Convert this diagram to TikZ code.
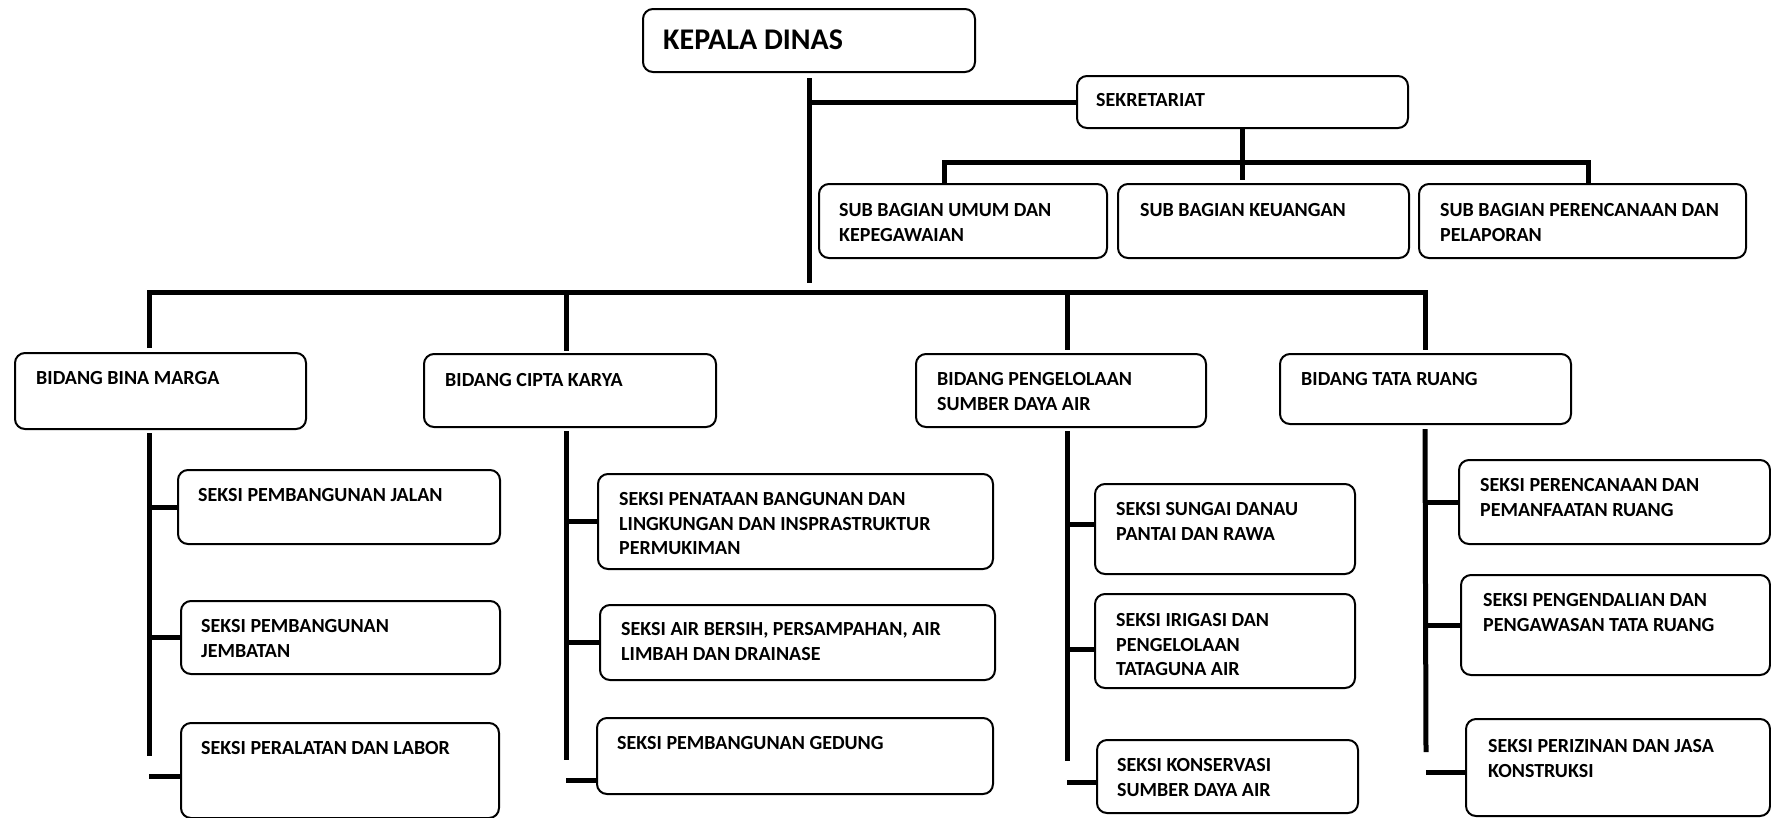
\documentclass[tikz,border=0pt]{standalone}
\usepackage{fontspec}
\setmainfont{Carlito}

\begin{document}
\begin{tikzpicture}[x=1pt,y=-1pt]
\tikzset{
  unit/.style={draw=black, line width=2pt, rounded corners=10pt, inner sep=0pt, anchor=north west},
  txt/.style={inner sep=0pt, anchor=north west, align=left, font=\bfseries\fontsize{20}{24.5}\selectfont},
  conn/.style={line width=5pt}
}
\useasboundingbox (0,0) rectangle (1771,817);

% kepala dinas and sekretariat
\node[unit, minimum width=332pt, minimum height=63pt] (kd) at (642,8) {};
\node[txt, font=\bfseries\fontsize{30}{36}\selectfont] (kd-t) at ([shift={(21pt,-22pt)}]kd.north west) {KEPALA DINAS};
\node[unit, minimum width=331pt, minimum height=52pt] (sek) at (1076,75) {};
\node[txt] (sek-t) at ([shift={(20pt,-18.5pt)}]sek.north west) {SEKRETARIAT};

% sub bagian
\node[unit, minimum width=288pt, minimum height=74pt] (sbu) at (818,183) {};
\node[txt] (sbu-t) at ([shift={(21pt,-20.5pt)}]sbu.north west) {SUB BAGIAN UMUM DAN\\KEPEGAWAIAN};
\node[unit, minimum width=291pt, minimum height=74pt] (sbk) at (1117,183) {};
\node[txt] (sbk-t) at ([shift={(23pt,-20.5pt)}]sbk.north west) {SUB BAGIAN KEUANGAN};
\node[unit, minimum width=327pt, minimum height=74pt] (sbp) at (1418,183) {};
\node[txt] (sbp-t) at ([shift={(22pt,-20.5pt)}]sbp.north west) {SUB BAGIAN PERENCANAAN DAN\\PELAPORAN};

% bidang
\node[unit, minimum width=291pt, minimum height=76pt] (bm) at (14,352) {};
\node[txt] (bm-t) at ([shift={(22pt,-19.5pt)}]bm.north west) {BIDANG BINA MARGA};
\node[unit, minimum width=292pt, minimum height=73pt] (ck) at (423,353) {};
\node[txt] (ck-t) at ([shift={(22pt,-20.5pt)}]ck.north west) {BIDANG CIPTA KARYA};
\node[unit, minimum width=290pt, minimum height=73pt] (psda) at (915,353) {};
\node[txt] (psda-t) at ([shift={(22pt,-19.5pt)}]psda.north west) {BIDANG PENGELOLAAN\\SUMBER DAYA AIR};
\node[unit, minimum width=291pt, minimum height=70pt] (tr) at (1279,353) {};
\node[txt] (tr-t) at ([shift={(22pt,-19.5pt)}]tr.north west) {BIDANG TATA RUANG};

% seksi bina marga
\node[unit, minimum width=322pt, minimum height=74pt] (s11) at (177,469) {};
\node[txt] (s11-t) at ([shift={(21pt,-19.5pt)}]s11.north west) {SEKSI PEMBANGUNAN JALAN};
\node[unit, minimum width=319pt, minimum height=73pt] (s12) at (180,600) {};
\node[txt] (s12-t) at ([shift={(21pt,-19.5pt)}]s12.north west) {SEKSI PEMBANGUNAN\\JEMBATAN};
\node[unit, minimum width=318pt, minimum height=95pt] (s13) at (180,722) {};
\node[txt] (s13-t) at ([shift={(21pt,-19.5pt)}]s13.north west) {SEKSI PERALATAN DAN LABOR};

% seksi cipta karya
\node[unit, minimum width=395pt, minimum height=95pt] (s21) at (597,473) {};
\node[txt] (s21-t) at ([shift={(22pt,-19.5pt)}]s21.north west) {SEKSI PENATAAN BANGUNAN DAN\\LINGKUNGAN DAN INSPRASTRUKTUR\\PERMUKIMAN};
\node[unit, minimum width=395pt, minimum height=75pt] (s22) at (599,604) {};
\node[txt] (s22-t) at ([shift={(22pt,-18.5pt)}]s22.north west) {SEKSI AIR BERSIH, PERSAMPAHAN, AIR\\LIMBAH DAN DRAINASE};
\node[unit, minimum width=396pt, minimum height=76pt] (s23) at (596,717) {};
\node[txt] (s23-t) at ([shift={(21pt,-19.5pt)}]s23.north west) {SEKSI PEMBANGUNAN GEDUNG};

% seksi pengelolaan sumber daya air
\node[unit, minimum width=260pt, minimum height=90pt] (s31) at (1094,483) {};
\node[txt] (s31-t) at ([shift={(22pt,-19.5pt)}]s31.north west) {SEKSI SUNGAI DANAU\\PANTAI DAN RAWA};
\node[unit, minimum width=260pt, minimum height=94pt] (s32) at (1094,593) {};
\node[txt] (s32-t) at ([shift={(22pt,-20.5pt)}]s32.north west) {SEKSI IRIGASI DAN\\PENGELOLAAN\\TATAGUNA AIR};
\node[unit, minimum width=261pt, minimum height=73pt] (s33) at (1096,739) {};
\node[txt] (s33-t) at ([shift={(21pt,-19.5pt)}]s33.north west) {SEKSI KONSERVASI\\SUMBER DAYA AIR};

% seksi tata ruang
\node[unit, minimum width=311pt, minimum height=84pt] (s41) at (1458,459) {};
\node[txt] (s41-t) at ([shift={(22pt,-19.5pt)}]s41.north west) {SEKSI PERENCANAAN DAN\\PEMANFAATAN RUANG};
\node[unit, minimum width=309pt, minimum height=100pt] (s42) at (1460,574) {};
\node[txt] (s42-t) at ([shift={(23pt,-19.5pt)}]s42.north west) {SEKSI PENGENDALIAN DAN\\PENGAWASAN TATA RUANG};
\node[unit, minimum width=304pt, minimum height=97pt] (s43) at (1465,718) {};
\node[txt] (s43-t) at ([shift={(23pt,-21.5pt)}]s43.north west) {SEKSI PERIZINAN DAN JASA\\KONSTRUKSI};

% bars and spines
\coordinate (sbl) at (944,162);
\coordinate (sbr) at (1588,162);
\coordinate (mbl) at (149,292);
\coordinate (mbr) at (1425,292);
\coordinate (ckx) at (566,292);
\coordinate (psx) at (1067,292);
\coordinate (bme) at (149,756);
\coordinate (cke) at (566,760);
\coordinate (pse) at (1067,761);
\coordinate (tre) at (1426,752);

\draw[conn] ([yshift=-5pt]kd.south) -- ([yshift=9pt]kd.south |- mbl);
\draw[conn] (kd.south |- sek.west) -- (sek.west);
\draw[conn] (sek.south) -- ([yshift=3pt]sek.south |- sbk.north);
\draw[conn] (sbl |- sbu.north) -- (sbl) -- (sbr) -- (sbr |- sbp.north);
\draw[conn] ([yshift=4pt]mbl |- bm.north) -- (mbl) -- (mbr) -- ([yshift=3pt]mbr |- tr.north);
\draw[conn] (ckx) -- ([yshift=2pt]ckx |- ck.north);
\draw[conn] (psx) -- ([yshift=3pt]psx |- psda.north);

\draw[conn] ([yshift=-3pt]mbl |- bm.south) -- (bme);
\draw[conn] ([yshift=-3pt]ckx |- ck.south) -- (cke);
\draw[conn] ([yshift=-3pt]psx |- psda.south) -- (pse);
\draw[conn] ([yshift=-4pt]mbr |- tr.south) -- (tre);

\draw[conn] (bme |- s11.west) -- (s11.west);
\draw[conn] (bme |- s12.west) -- (s12.west);
\draw[conn] ([yshift=-6pt]bme |- s13.west) -- ([yshift=-6pt]s13.west);
\draw[conn] (cke |- s21.west) -- (s21.west);
\draw[conn] (cke |- s22.west) -- (s22.west);
\draw[conn] ([yshift=-24pt]cke |- s23.west) -- ([yshift=-24pt]s23.west);
\draw[conn] ([yshift=5pt]pse |- s31.west) -- ([yshift=5pt]s31.west);
\draw[conn] ([yshift=-8pt]pse |- s32.west) -- ([yshift=-8pt]s32.west);
\draw[conn] ([yshift=-6pt]pse |- s33.west) -- ([yshift=-6pt]s33.west);
\draw[conn] (tre |- s41.west) -- (s41.west);
\draw[conn] (tre |- s42.west) -- (s42.west);
\draw[conn] ([yshift=-5pt]tre |- s43.west) -- ([yshift=-5pt]s43.west);
\end{tikzpicture}
\end{document}
